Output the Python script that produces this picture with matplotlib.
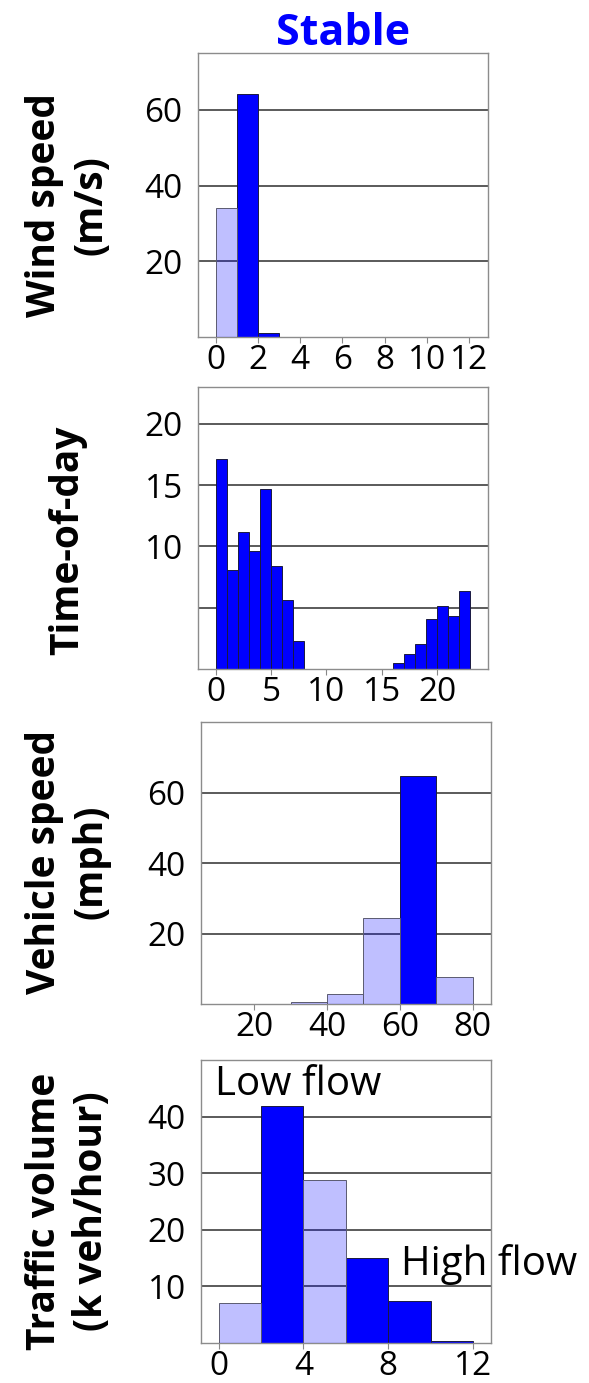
import numpy as np
import matplotlib
matplotlib.use("Agg")
import matplotlib.pyplot as plt

plt.rcParams['font.family'] = ['Open Sans', 'DejaVu Sans']

BLUE = '#0000FF'
LIGHT = (0.0, 0.0, 1.0, 0.25)

# wind speed (m/s), bin width 1
wind_left = [0, 1, 2]
wind_vals = [34.0, 64.3, 1.0]
wind_dark = [False, True, True]

# time of day (hour), bin width 1
hour_left = list(range(23))
hour_vals = [17.1, 8.1, 11.2, 9.6, 14.7, 8.4, 5.6, 2.3,
             0, 0, 0, 0, 0, 0, 0, 0,
             0.5, 1.25, 2.0, 4.1, 5.1, 4.3, 6.35]
hour_dark = [True] * 23

# vehicle speed (mph), bin width 10
veh_left = [20, 30, 40, 50, 60, 70]
veh_vals = [0.0, 0.5, 2.9, 24.5, 64.8, 7.7]
veh_dark = [False, False, False, False, True, False]

# traffic volume (k veh/hour), bin width 2
vol_left = [0, 2, 4, 6, 8, 10]
vol_vals = [7.1, 41.8, 28.8, 15.0, 7.4, 0.3]
vol_dark = [False, True, False, True, True, True]

panels = [
    dict(left=wind_left, vals=wind_vals, dark=wind_dark, width=1,
         xlim=(-0.84, 12.9), ylim=(0, 75), xticks=[0, 2, 4, 6, 8, 10, 12],
         yticks=[20, 40, 60], ylabels=['20', '40', '60'],
         label="Wind speed\n(m/s)", label_y=205,
         rect=[198, 53, 488, 337]),
    dict(left=hour_left, vals=hour_vals, dark=hour_dark, width=1,
         xlim=(-1.6, 24.6), ylim=(0, 23), xticks=[0, 5, 10, 15, 20],
         yticks=[5, 10, 15, 20], ylabels=['', '10', '15', '20'],
         label="Time-of-day", label_y=540,
         rect=[198, 387, 488, 669]),
    dict(left=veh_left, vals=veh_vals, dark=veh_dark, width=10,
         xlim=(5.4, 85.0), ylim=(0, 80), xticks=[20, 40, 60, 80],
         yticks=[20, 40, 60], ylabels=['20', '40', '60'],
         label="Vehicle speed\n(mph)", label_y=862,
         rect=[201, 722, 491, 1004]),
    dict(left=vol_left, vals=vol_vals, dark=vol_dark, width=2,
         xlim=(-0.83, 12.85), ylim=(0, 50), xticks=[0, 4, 8, 12],
         yticks=[10, 20, 30, 40], ylabels=['10', '20', '30', '40'],
         label="Traffic volume\n(k veh/hour)", label_y=1211,
         rect=[201, 1060, 491, 1343]),
]

W, H = 589, 1383
fig = plt.figure(figsize=(W / 100, H / 100), dpi=100)

axes = []
for p in panels:
    x0, y0, x1, y1 = p['rect']
    ax = fig.add_axes([x0 / W, 1 - y1 / H, (x1 - x0) / W, (y1 - y0) / H])
    axes.append(ax)
    ax.set_axisbelow(True)
    ax.yaxis.grid(True, color='#5a5a5a', lw=1.4)
    for l, v, d in zip(p['left'], p['vals'], p['dark']):
        if v <= 0:
            continue
        if d:
            ax.bar(l, v, width=p['width'], align='edge', color=BLUE,
                   edgecolor='#1a1a40', lw=0.7, zorder=2)
        else:
            ax.bar(l, v, width=p['width'], align='edge', color=LIGHT,
                   edgecolor='#5a5a70', lw=0.7, zorder=3)
    ax.set_xlim(*p['xlim'])
    ax.set_ylim(*p['ylim'])
    ax.set_xticks(p['xticks'])
    ax.set_yticks(p['yticks'])
    ax.set_yticklabels(p['ylabels'])
    ax.tick_params(axis='x', length=4, width=0.8, color='#888888',
                   labelsize=24, pad=1)
    ax.tick_params(axis='y', length=0, labelsize=24, pad=11)
    for s in ax.spines.values():
        s.set_color('#8c8c8c')
        s.set_linewidth(1.0)
    fig.text(68 / W, 1 - p['label_y'] / H, p['label'], rotation=90,
             ha='center', va='center', ma='center', fontsize=28,
             fontweight='bold', linespacing=1.25)

fig.text(343 / W, 1 - 45 / H, "Stable", ha='center', va='baseline',
         fontsize=31, fontweight='bold', color=BLUE)

axes[3].text(-0.15, 43.8, "Low flow", fontsize=29, ha='left', va='baseline')
axes[3].text(8.6, 11.95, "High flow", fontsize=29, ha='left', va='baseline')

fig.savefig("out.png", dpi=100)
